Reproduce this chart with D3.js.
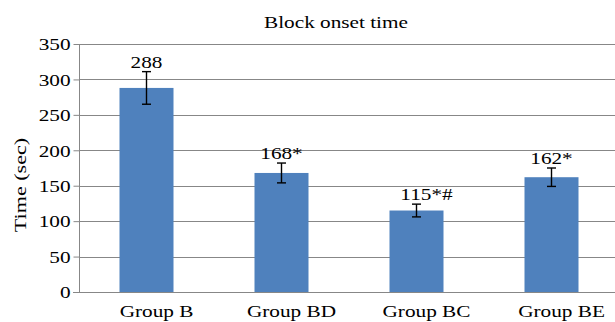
<!DOCTYPE html>
<html>
<head>
<meta charset="utf-8">
<script src="https://cdn.jsdelivr.net/npm/d3@7"></script>
<style>
  html, body { margin: 0; padding: 0; background: #fff; }
  svg { display: block; }
</style>
</head>
<body>
<script>
// ---- data ----
const categories = ["Group B", "Group BD", "Group BC", "Group BE"];
const values = [288, 168, 115, 162];
const errors = [23, 14, 9, 13];
const valueLabels = ["288", "168*", "115*#", "162*"];
const yTicks = [0, 50, 100, 150, 200, 250, 300, 350];
const title = "Block onset time";
const yTitle = "Time (sec)";

// ---- style ----
const W = 615, H = 322;
const FONT = "'Liberation Serif', 'Times New Roman', serif";
const FS = 17;
const SX = 1.25; // horizontal stretch for the wide serif look
const barColor = "#4F81BD";
const gridColor = "#878787";
const labelDx = [0, 0, 10, 0];

const svg = d3.select("body").append("svg").attr("width", W).attr("height", H);

const x = d3.scaleBand().domain(categories).range([79, 619]).paddingInner(0.6).paddingOuter(0.3);
const y = d3.scaleLinear().domain([0, 350]).range([292, 44]);

function stext(parent, tx, ty, str, anchor, sx) {
  const g = parent.append("g").attr("transform", `translate(${tx},${ty})`);
  g.append("text")
    .attr("transform", `scale(${sx || SX},1)`)
    .attr("text-anchor", anchor || "middle")
    .attr("font-family", FONT)
    .attr("font-size", FS)
    .attr("fill", "#000")
    .text(str);
  return g;
}

// gridlines
svg.append("g").selectAll("line").data(yTicks.filter(d => d > 0)).join("line")
  .attr("x1", 79).attr("x2", W)
  .attr("y1", d => Math.round(y(d)) + 0.5).attr("y2", d => Math.round(y(d)) + 0.5)
  .attr("stroke", gridColor).attr("stroke-width", 1);

// y axis
const yAxis = svg.append("g").attr("transform", "translate(79.5,0)")
  .call(d3.axisLeft(y).tickValues(yTicks).tickSize(6).tickPadding(3).tickFormat(d3.format("d")));
yAxis.select(".domain").attr("stroke", gridColor).attr("d", `M0,${y(350)}V${y(0)}`);
yAxis.selectAll(".tick line").attr("stroke", gridColor);
yAxis.selectAll(".tick text")
  .attr("font-family", FONT).attr("font-size", FS).attr("fill", "#000")
  .attr("x", -9 / SX).attr("dy", "0.34em")
  .attr("transform", `scale(${SX},1)`);
yAxis.attr("font-family", null).attr("font-size", null);

// x axis baseline
svg.append("line")
  .attr("x1", 73).attr("x2", W)
  .attr("y1", Math.round(y(0)) + 0.5).attr("y2", Math.round(y(0)) + 0.5)
  .attr("stroke", gridColor).attr("stroke-width", 1);

// bars
svg.append("g").selectAll("rect").data(values).join("rect")
  .attr("x", (d, i) => x(categories[i]))
  .attr("width", x.bandwidth())
  .attr("y", d => y(d))
  .attr("height", d => y(0) - y(d))
  .attr("fill", barColor);

// error bars
const eg = svg.append("g").attr("stroke", "#000").attr("stroke-width", 1.4);
values.forEach((v, i) => {
  const cx = x(categories[i]) + x.bandwidth() / 2;
  const top = y(v + errors[i]), bot = y(v - errors[i]);
  eg.append("line").attr("x1", cx).attr("x2", cx).attr("y1", top).attr("y2", bot);
  eg.append("line").attr("x1", cx - 4.5).attr("x2", cx + 4.5).attr("y1", top).attr("y2", top);
  eg.append("line").attr("x1", cx - 4.5).attr("x2", cx + 4.5).attr("y1", bot).attr("y2", bot);
});

// value labels
values.forEach((v, i) => {
  const cx = x(categories[i]) + x.bandwidth() / 2 + labelDx[i];
  stext(svg, cx, y(v + errors[i]) - 4, valueLabels[i], "middle");
});

// category labels
categories.forEach(c => {
  stext(svg, x(c) + x.bandwidth() / 2 + 10, 317, c, "middle");
});

// title
stext(svg, 336, 28, title, "middle");

// y title
const yt = svg.append("g").attr("transform", "translate(26,185) rotate(-90)");
yt.append("text")
  .attr("transform", "scale(1.3,1)")
  .attr("text-anchor", "middle")
  .attr("font-family", FONT).attr("font-size", FS).attr("fill", "#000")
  .text(yTitle);
</script>
</body>
</html>
